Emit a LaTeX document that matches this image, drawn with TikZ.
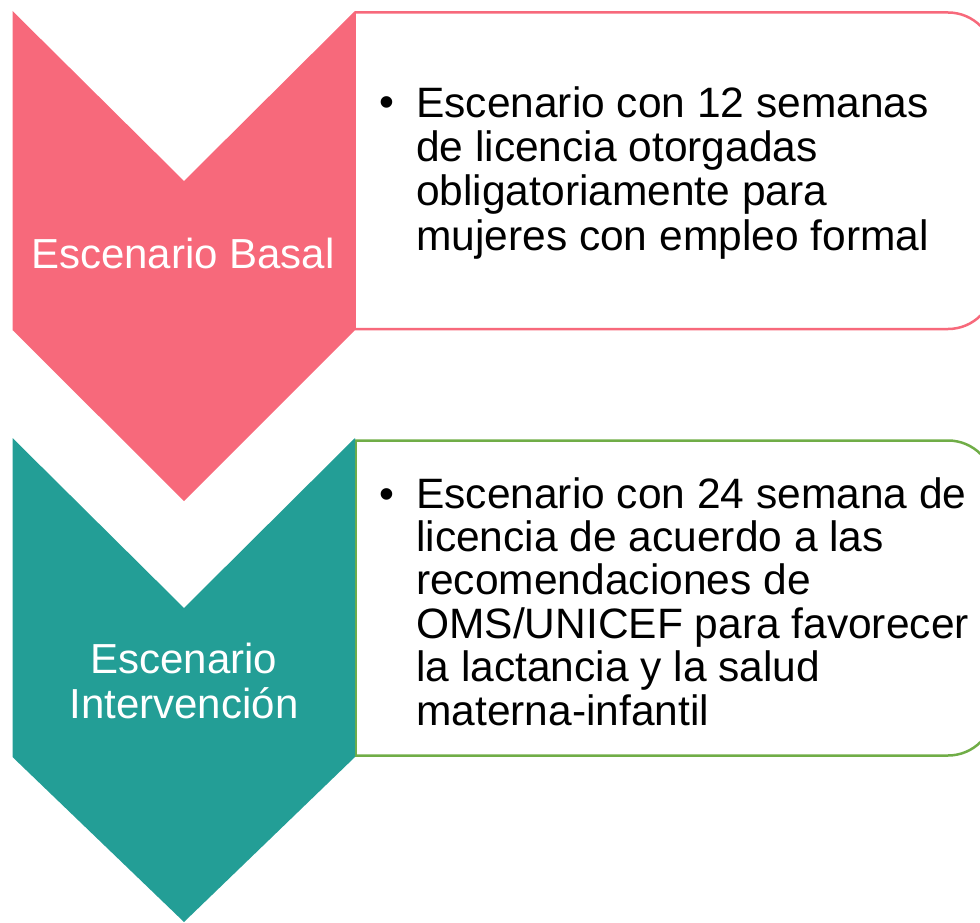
\documentclass[tikz,border=0pt]{standalone}
\usepackage{fontspec}
\setmainfont{Liberation Sans}
\definecolor{pinkc}{HTML}{F7697B}
\definecolor{tealc}{HTML}{239E96}
\definecolor{greenc}{HTML}{70AD47}
\begin{document}
\begin{tikzpicture}[x=1pt,y=-1pt,
  boxline/.style={line width=2.5pt},
  bigtxt/.style={font=\fontsize{42.5}{44.3}\selectfont, inner sep=0pt, align=left},
  lbltxt/.style={font=\fontsize{42}{45}\selectfont, text=white, inner sep=0pt, align=center}]
\useasboundingbox (0,0) rectangle (980,923);
\clip (0,0) rectangle (980,923);
% boxes
\draw[boxline, draw=pinkc, rounded corners=46pt] (355,12.5) -- (994,12.5) -- (994,329) -- (355,329);
\draw[boxline, draw=pinkc] (355,12.5) -- (355,329);
\draw[boxline, draw=greenc, rounded corners=46pt] (355,440.5) -- (994,440.5) -- (994,755.5) -- (355,755.5);
\draw[boxline, draw=greenc] (356,440.5) -- (356,755.5);
% chevrons
\fill[pinkc] (12.5,11) -- (184,181) -- (355,11) -- (355,330) -- (184,501) -- (12.5,330) -- cycle;
\fill[tealc] (12.5,438) -- (184,608) -- (355,438) -- (355,757) -- (184,922) -- (12.5,757) -- cycle;
% labels
\node[lbltxt, anchor=base] (l1) at (183,268) {Escenario Basal};
\node[lbltxt, anchor=base] (l2a) at (184,673) {Escenario};
\node[lbltxt, anchor=base] (l2b) at (184,718) {Intervención};
% bullets
\node[bigtxt, anchor=base] (b1) at (387,116.7) {•};
\node[bigtxt, anchor=base west] (t1) at (416,250) {Escenario con 12 semanas\\de licencia otorgadas\\obligatoriamente para\\mujeres con empleo formal};
\node[bigtxt, anchor=base] (b2) at (387,508) {•};
\node[bigtxt, anchor=base west, font=\fontsize{42.5}{43.4}\selectfont] (t2) at (416,725) {Escenario con 24 semana de\\licencia de acuerdo a las\\recomendaciones de\\OMS/UNICEF para favorecer\\la lactancia y la salud\\materna-infantil};
\end{tikzpicture}
\end{document}
